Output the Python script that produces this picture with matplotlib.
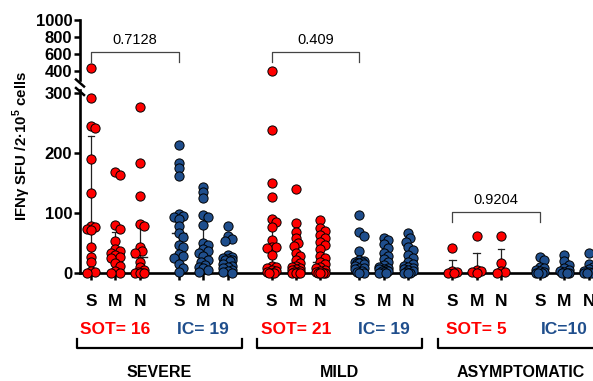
import numpy as np
import matplotlib
matplotlib.use("Agg")
from matplotlib import pyplot as plt
from matplotlib.lines import Line2D

plt.rcParams['font.family'] = ['Liberation Sans', 'DejaVu Sans']
plt.rcParams['mathtext.fontset'] = 'custom'
plt.rcParams['mathtext.rm'] = 'Liberation Sans:bold'
plt.rcParams['mathtext.bf'] = 'Liberation Sans:bold'

RED = '#ff0000'
BLUE = '#1f4e8c'

severities = ["SEVERE", "MILD", "ASYMPTOMATIC"]
peptides = ["S", "M", "N"]
cohort_labels = ["SOT= 16", "IC= 19", "SOT= 21", "IC= 19", "SOT= 5", "IC=10"]
cohort_colors = [RED, BLUE, RED, BLUE, RED, BLUE]
p_values = ["0.7128", "0.409", "0.9204"]

# IFN-gamma SFU per 2x10^5 cells, one list per cohort/peptide
severe_sot_s = [440, 291, 245, 242, 190, 133, 79, 76, 73, 72, 43, 27, 18, 3, 1, 0]
severe_sot_m = [169, 163, 80, 73, 54, 40, 37, 33, 30, 27, 25, 16, 12, 3, 0, 0]
severe_sot_n = [277, 183, 128, 81, 79, 44, 36, 33, 19, 10, 5, 2, 0, 0, 0, 0]
severe_ic_s = [214, 184, 175, 162, 98, 95, 93, 90, 78, 66, 60, 47, 44, 32, 28, 25, 15, 8, 2]
severe_ic_m = [144, 135, 125, 96, 93, 80, 50, 46, 40, 37, 33, 28, 22, 19, 13, 10, 8, 5, 2]
severe_ic_n = [79, 62, 57, 54, 30, 27, 25, 23, 22, 22, 20, 15, 12, 10, 8, 5, 3, 2, 0]
mild_sot_s = [405, 238, 150, 127, 90, 85, 76, 55, 44, 43, 42, 30, 12, 10, 8, 5, 3, 2, 0, 0, 0]
mild_sot_m = [140, 84, 68, 58, 50, 45, 33, 28, 22, 16, 12, 10, 8, 6, 5, 3, 2, 0, 0, 0, 0]
mild_sot_n = [88, 75, 70, 63, 58, 52, 47, 40, 28, 25, 19, 15, 10, 8, 5, 3, 2, 0, 0, 0, 0]
mild_ic_s = [97, 69, 62, 36, 22, 20, 19, 18, 17, 17, 15, 12, 9, 8, 6, 3, 2, 0, 0]
mild_ic_m = [58, 55, 48, 42, 33, 28, 24, 18, 14, 10, 8, 7, 6, 5, 4, 3, 2, 0, 0]
mild_ic_n = [66, 58, 52, 44, 38, 30, 25, 19, 15, 12, 10, 8, 6, 5, 3, 2, 0, 0, 0]
asym_sot_s = [41, 3, 1, 0, 0]
asym_sot_m = [62, 5, 3, 1, 0]
asym_sot_n = [62, 17, 3, 1, 0]
asym_ic_s = [26, 22, 10, 8, 5, 3, 2, 0, 0, 0]
asym_ic_m = [30, 20, 13, 8, 5, 3, 2, 0, 0, 0]
asym_ic_n = [34, 15, 10, 6, 4, 2, 1, 0, 0, 0]

cohorts = [
    [severe_sot_s, severe_sot_m, severe_sot_n],
    [severe_ic_s, severe_ic_m, severe_ic_n],
    [mild_sot_s, mild_sot_m, mild_sot_n],
    [mild_ic_s, mild_ic_m, mild_ic_n],
    [asym_sot_s, asym_sot_m, asym_sot_n],
    [asym_ic_s, asym_ic_m, asym_ic_n],
]
cohort_starts = [0, 3.6, 7.4, 11.0, 14.8, 18.4]

W, H = 593, 381
fig = plt.figure(figsize=(W / 100, H / 100), dpi=100)


def fig_box(left, top, right, bottom):
    return [left / W, 1 - bottom / H, (right - left) / W, (bottom - top) / H]


ax = fig.add_axes(fig_box(80, 90, 593, 273))
ax_top = fig.add_axes(fig_box(80, 20, 593, 80))

XLIM = (-0.45, 20.57)
for a in (ax, ax_top):
    a.set_xlim(*XLIM)
    for side in ("top", "right"):
        a.spines[side].set_visible(False)
    a.spines["left"].set_linewidth(1.9)
    a.tick_params(axis="y", direction="out", length=4, width=1.8, pad=1.5, labelsize=12)

ax.set_ylim(0, 305)
ax.set_yticks([0, 100, 200, 300])
ax_top.set_ylim(295, 1000)
ax_top.set_yticks([400, 600, 800, 1000])
ax_top.spines["bottom"].set_visible(False)
ax_top.set_xticks([])
ax.spines["bottom"].set_linewidth(1.9)
ax.spines["bottom"].set_zorder(1)
for a in (ax, ax_top):
    for lbl in a.get_yticklabels():
        lbl.set_fontweight("bold")

px_per_x = (593 - 80) / (XLIM[1] - XLIM[0])
px_per_val_low = 183 / 305
px_per_val_top = 60 / 705


def swarm(values, px_per_val, diam=5.0, step=2.2, max_k=2):
    # spread overlapping dots sideways, GraphPad style (narrow, overlaps allowed)
    values = np.asarray(values, dtype=float)
    offs = np.zeros(len(values))
    placed = []
    cands = [0.0]
    for k in range(1, max_k + 1):
        cands += [k * step, -k * step]
    for i in np.argsort(-values, kind="stable"):
        y = values[i] * px_per_val
        best, best_d = 0.0, -1.0
        for dx in cands:
            d = min([np.hypot(dx - px, y - py) for px, py in placed] + [99.0])
            if d >= diam:
                best = dx
                break
            if d > best_d:
                best, best_d = dx, d
        placed.append((best, y))
        offs[i] = best / px_per_x
    return offs


xticks = []
for start, groups, color in zip(cohort_starts, cohorts, cohort_colors):
    for j, vals in enumerate(groups):
        x0 = start + j
        xticks.append(x0)
        vals = np.asarray(vals, dtype=float)
        low = vals[vals <= 300]
        high = vals[vals > 300]
        ax.scatter(x0 + swarm(low, px_per_val_low), low, s=44, c=color,
                   edgecolors="black", linewidths=0.7, zorder=4, clip_on=False)
        if len(high):
            ax_top.scatter(x0 + swarm(high, px_per_val_top), high, s=44, c=color,
                           edgecolors="black", linewidths=0.7, zorder=4, clip_on=False)
        q1, med, q3 = np.percentile(vals, [25, 50, 75], method="weibull")
        ax.plot([x0, x0], [q1, q3], color="#222222", lw=0.9, zorder=3)
        ax.plot([x0 - 0.14, x0 + 0.14], [q3, q3], color="#222222", lw=0.9, zorder=3)
        ax.plot([x0 - 0.14, x0 + 0.14], [q1, q1], color="#222222", lw=0.9, zorder=3)
        ax.plot([x0 - 0.3, x0 + 0.3], [med, med], color="#222222", lw=1.0, zorder=3)

ax.set_xticks(xticks)
ax.set_xticklabels([])
ax.tick_params(axis="x", direction="out", length=5, width=1.8)

xt = ax.get_xaxis_transform()
for i, x in enumerate(xticks):
    ax.text(x, -0.158, peptides[i % 3], transform=xt, ha="center", va="center",
            fontsize=12.5, fontweight="bold", clip_on=False)

for start, label, color in zip(cohort_starts, cohort_labels, cohort_colors):
    ax.text(start + 1, -0.311, label, transform=xt, ha="center", va="center",
            fontsize=12.5, fontweight="bold", color=color, clip_on=False)

for k, name in enumerate(severities):
    left = cohort_starts[2 * k] - 0.58
    right = cohort_starts[2 * k + 1] + 2 + 0.58
    ax.add_line(Line2D([left, left, right, right], [-0.361, -0.41, -0.41, -0.361],
                       transform=xt, color="black", lw=1.6, clip_on=False))
    ax.text((left + right) / 2, -0.546, name, transform=xt, ha="center", va="center",
            fontsize=11.5, fontweight="bold", clip_on=False)

# p-value brackets
for k in range(2):
    a, b = cohort_starts[2 * k], cohort_starts[2 * k + 1]
    ax_top.plot([a, a, b, b], [506, 624, 624, 506], color="#444444", lw=0.9, clip_on=False)
    ax_top.text((a + b) / 2, 765, p_values[k], ha="center", va="center", fontsize=10.5)
a, b = cohort_starts[4], cohort_starts[5]
ax.plot([a, a, b, b], [85, 102, 102, 85], color="#444444", lw=0.9, clip_on=False)
ax.text((a + b) / 2, 122, p_values[2], ha="center", va="center", fontsize=10.5)

# axis break marks
for yc in (83, 91.5):
    fig.add_artist(Line2D([76 / W, 84 / W], [1 - (yc - 3.5) / H, 1 - (yc + 3.5) / H],
                          color="black", lw=1.8))

fig.text(22 / W, 1 - 146 / H, "IFNγ SFU /2·10$^{5}$ cells", rotation=90,
         ha="center", va="center", fontsize=10.8, fontweight="bold")

fig.savefig("out.png", dpi=100)
